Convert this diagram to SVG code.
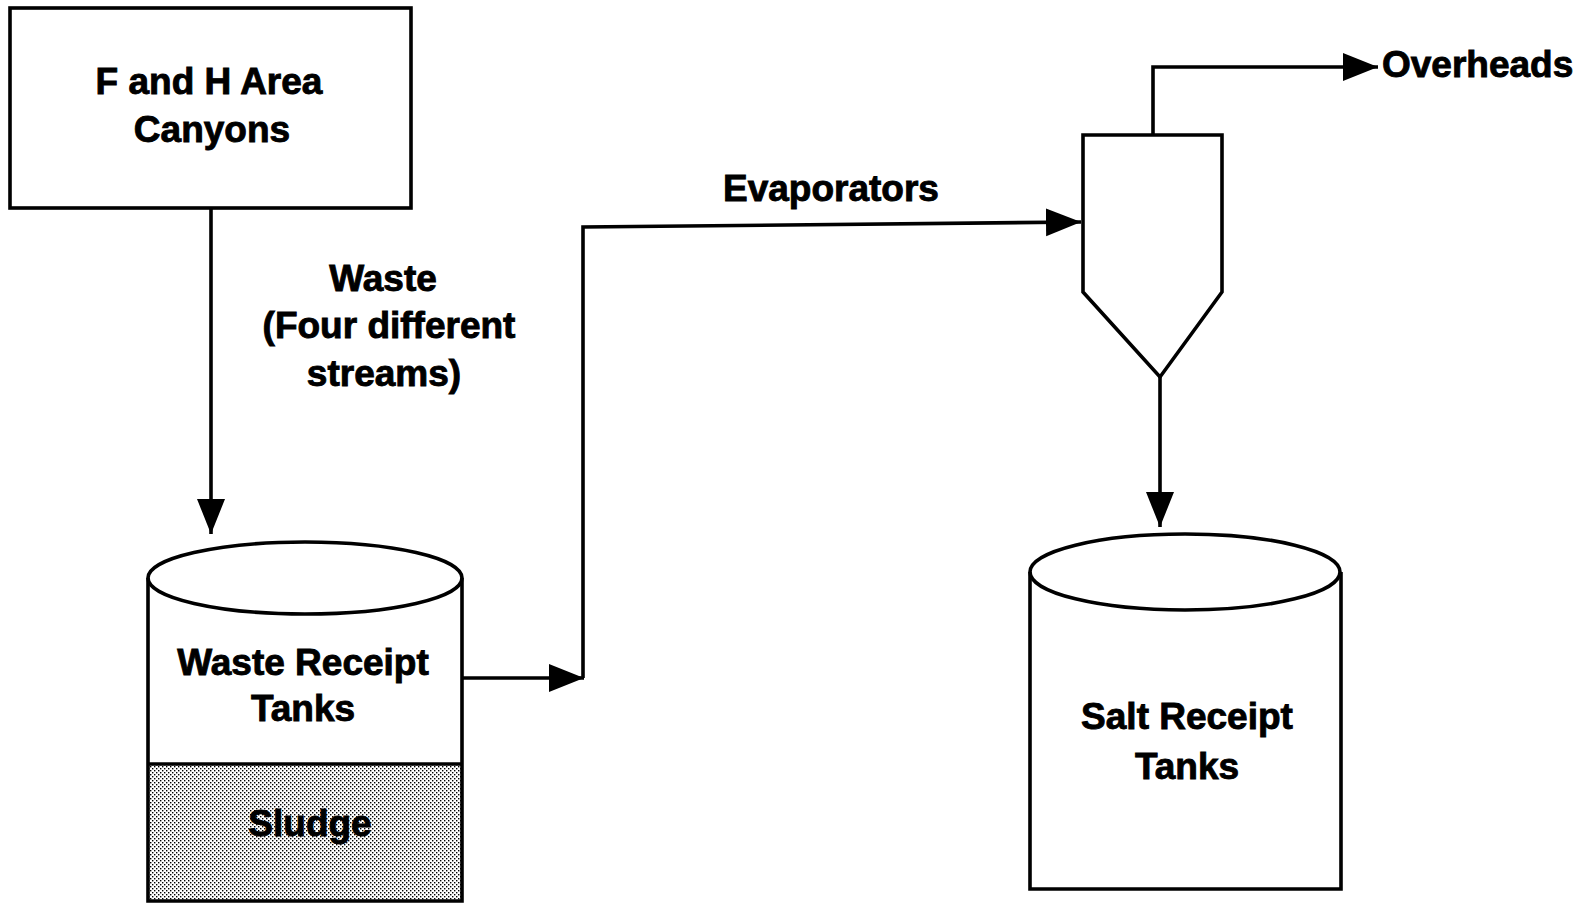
<svg xmlns="http://www.w3.org/2000/svg" width="1576" height="906" viewBox="0 0 1576 906">
<style>
.s{fill:none;stroke:#000;stroke-width:3.6;stroke-linejoin:miter}
.w{fill:#fff;stroke:#000;stroke-width:3.6}
.t{font-family:"Liberation Sans",Arial,sans-serif;font-weight:bold;font-size:37px;fill:#000;stroke:#000;stroke-width:0.9;text-anchor:middle}
</style>
<defs>
<marker id="ah" markerUnits="userSpaceOnUse" markerWidth="38" markerHeight="30" refX="35" refY="14" orient="auto">
<path d="M0,0 L35,14 L0,28 Z" fill="#000"/>
</marker>
<pattern id="dots" width="4" height="4" patternUnits="userSpaceOnUse">
<rect width="4" height="4" fill="#fff"/>
<rect x="0" y="0" width="1.4" height="1.4" fill="#000"/>
<rect x="2" y="2" width="1.4" height="1.4" fill="#000"/>
</pattern>
</defs>
<rect width="1576" height="906" fill="#fff"/>
<g id="canyons">
<rect class="w" x="10" y="8" width="401" height="200"/>
<text class="t" x="209" y="94">F and H Area</text>
<text class="t" x="212" y="142">Canyons</text>
</g>
<g id="waste-label">
<text class="t" x="383" y="291">Waste</text>
<text class="t" x="389" y="338">(Four different</text>
<text class="t" x="384" y="386">streams)</text>
</g>
<g id="waste-tank">
<rect x="149" y="764" width="313" height="137" fill="url(#dots)"/>
<path class="s" d="M148,578 L148,901 L462,901 L462,578"/>
<line class="s" x1="148" y1="764" x2="462" y2="764"/>
<ellipse class="s" cx="305" cy="578" rx="157" ry="36"/>
<text class="t" x="303" y="675">Waste Receipt</text>
<text class="t" x="303" y="721">Tanks</text>
<text class="t" x="310" y="836">Sludge</text>
</g>
<g id="evaporator">
<path class="w" d="M1083,135 L1222,135 L1222,292 L1160,377 L1083,292 Z"/>
<text class="t" x="831" y="201">Evaporators</text>
</g>
<g id="overheads">
<text class="t" x="1382" y="77" style="text-anchor:start">Overheads</text>
</g>
<g id="salt-tank">
<path class="s" d="M1030,572 L1030,889 L1341,889 L1341,572"/>
<ellipse class="s" cx="1185" cy="572" rx="155" ry="38"/>
<text class="t" x="1187" y="729">Salt Receipt</text>
<text class="t" x="1187" y="779">Tanks</text>
</g>
<g id="connectors">
<path class="s" d="M211,208 L211,534" marker-end="url(#ah)"/>
<path class="s" d="M463,678 L584,678" marker-end="url(#ah)"/>
<path class="s" d="M583,678 L583,227 L1081,222" marker-end="url(#ah)"/>
<path class="s" d="M1153,135 L1153,67 L1378,67" marker-end="url(#ah)"/>
<path class="s" d="M1160,377 L1160,527" marker-end="url(#ah)"/>
</g>
</svg>
